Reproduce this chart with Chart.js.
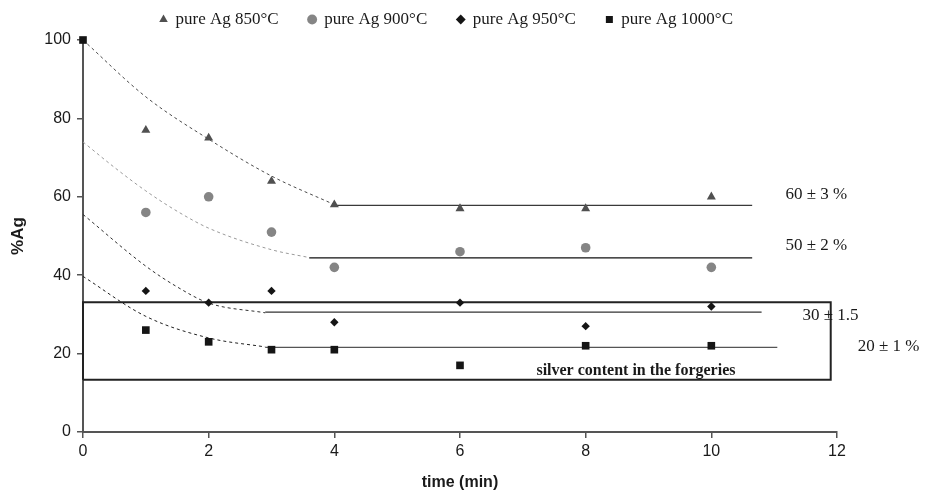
<!DOCTYPE html>
<html>
<head>
<meta charset="utf-8">
<script src="https://cdn.jsdelivr.net/npm/chart.js@4.4.1/dist/chart.umd.min.js"></script>
<style>
  html, body { margin: 0; padding: 0; background: #fff; }
  #wrap { width: 927px; height: 493px; }
</style>
</head>
<body>
<div id="wrap"><canvas id="grafica"></canvas></div>
<script>
/* ===============================
   DATOS
================================= */
const tiempos = [1, 2, 3, 4, 6, 8, 10];
const ag850 = [77, 75, 64, 58, 57, 57, 60];
const ag900 = [56, 60, 51, 42, 46, 47, 42];
const ag950 = [36, 33, 36, 28, 33, 27, 32];
const tiempos1000 = [0, 1, 2, 3, 4, 6, 8, 10];
const ag1000 = [100, 26, 23, 21, 21, 17, 22, 22];

// curvas de ajuste (punteadas)
const curvaX850 = [0, 1, 2, 3, 4];
const curvaY850 = [100, 85.5, 74.7, 65.3, 58];
const curvaX900 = [0, 0.5, 1, 1.5, 2, 3, 3.6];
const curvaY900 = [74, 67.5, 61.5, 56.3, 52, 46.5, 44.5];
const curvaX950 = [0, 1, 1.5, 2, 2.9];
const curvaY950 = [55.5, 42.3, 37, 32.9, 30.4];
const curvaX1000 = [0, 1, 2, 2.9];
const curvaY1000 = [39.7, 29.5, 24, 21.7];

// mesetas (lineas continuas): [x inicio, x fin, y]
const meseta850 = [4, 10.65, 57.8];
const meseta900 = [3.6, 10.65, 44.4];
const meseta950 = [2.9, 10.8, 30.6];
const meseta1000 = [2.9, 11.05, 21.6];

// recuadro "silver content in the forgeries": [x0, x1, y0, y1]
const recuadro = [0, 11.9, 13.3, 33.1];

// textos en coordenadas de datos
const etiquetas = ["60 ± 3 %", "50 ± 2 %", "30 ± 1.5", "20 ± 1 %"];
const etiquetasX = [11.18, 11.18, 11.45, 12.33];
const etiquetasY = [60.6, 47.6, 29.7, 21.7];
const textoCaja = "silver content in the forgeries";
const textoCajaX = 8.8;
const textoCajaY = 15.7;

const nombres = ["pure Ag 850°C", "pure Ag 900°C", "pure Ag 950°C", "pure Ag 1000°C"];
const ticksX = [0, 2, 4, 6, 8, 10, 12];
const ticksY = [0, 20, 40, 60, 80, 100];

/* ===============================
   ARMAR DATASETS
================================= */
function puntos(xs, ys) {
    return xs.map((x, i) => ({ x: x, y: ys[i] }));
}

function curva(xs, ys, color) {
    return {
        data: puntos(xs, ys),
        showLine: true,
        borderColor: color,
        borderWidth: 1,
        borderDash: [3, 3],
        pointRadius: 0,
        cubicInterpolationMode: "monotone",
        fill: false
    };
}

function meseta(m, color) {
    return {
        data: [{ x: m[0], y: m[2] }, { x: m[1], y: m[2] }],
        showLine: true,
        borderColor: color,
        borderWidth: 1.3,
        pointRadius: 0,
        fill: false
    };
}

function serie(nombre, xs, ys, color, estilo, radio) {
    return {
        label: nombre,
        data: puntos(xs, ys),
        backgroundColor: color,
        borderColor: color,
        pointStyle: estilo,
        pointRadius: radio,
        pointBorderWidth: 0,
        showLine: false,
        clip: 10
    };
}

const datasets = [
    serie(nombres[0], tiempos, ag850, "#505050", "triangle", 5.2),
    serie(nombres[1], tiempos, ag900, "#858585", "circle", 4.8),
    serie(nombres[2], tiempos, ag950, "#151515", "rectRot", 4.2),
    serie(nombres[3], tiempos1000, ag1000, "#151515", "rect", 5.4),
    curva(curvaX850, curvaY850, "#4a4a4a"),
    curva(curvaX900, curvaY900, "#9a9a9a"),
    curva(curvaX950, curvaY950, "#303030"),
    curva(curvaX1000, curvaY1000, "#202020"),
    meseta(meseta850, "#3a3a3a"),
    meseta(meseta900, "#111111"),
    meseta(meseta950, "#333333"),
    meseta(meseta1000, "#555555"),
    {
        data: [
            { x: recuadro[0], y: recuadro[2] },
            { x: recuadro[1], y: recuadro[2] },
            { x: recuadro[1], y: recuadro[3] },
            { x: recuadro[0], y: recuadro[3] },
            { x: recuadro[0], y: recuadro[2] }
        ],
        showLine: true,
        borderColor: "#222222",
        borderWidth: 2,
        pointRadius: 0,
        fill: false,
        clip: 4
    }
];

/* ===============================
   TEXTOS SOBRE LA GRAFICA
================================= */
const textosPlugin = {
    id: "textos",
    afterLayout(chart) {
        // mover la leyenda como en la figura original
        const ley = chart.legend;
        ley.left += 28;
        ley.right += 28;
        ley.top -= 2;
        ley.bottom -= 2;
    },
    afterDatasetsDraw(chart) {
        const ctx = chart.ctx;
        const sx = chart.scales.x;
        const sy = chart.scales.y;
        ctx.save();
        ctx.fillStyle = "#1a1a1a";
        ctx.textBaseline = "middle";
        ctx.textAlign = "left";
        ctx.font = "17px 'Liberation Serif'";
        etiquetas.forEach((t, i) => {
            ctx.fillText(t, sx.getPixelForValue(etiquetasX[i]), sy.getPixelForValue(etiquetasY[i]));
        });
        ctx.font = "bold 16px 'Liberation Serif'";
        ctx.textAlign = "center";
        ctx.fillText(textoCaja, sx.getPixelForValue(textoCajaX), sy.getPixelForValue(textoCajaY));
        ctx.restore();
    }
};

/* ===============================
   GRAFICA
================================= */
const ctx = document.getElementById("grafica").getContext("2d");

const grafica = new Chart(ctx, {
    type: "scatter",
    data: { datasets: datasets },
    plugins: [textosPlugin],
    options: {
        responsive: true,
        maintainAspectRatio: false,
        animation: false,
        layout: { padding: { top: -17, right: 90, bottom: 0, left: 0 } },
        plugins: {
            tooltip: { enabled: false },
            legend: {
                position: "top",
                labels: {
                    filter: (item) => item.datasetIndex < 4,
                    usePointStyle: true,
                    boxWidth: 7,
                    boxHeight: 7,
                    padding: 30,
                    color: "#1a1a1a",
                    font: { family: "'Liberation Serif'", size: 17 }
                }
            }
        },
        scales: {
            x: {
                type: "linear",
                min: 0,
                max: 12,
                afterFit: (s) => { s.height = 61; },
                afterBuildTicks: (s) => { s.ticks = ticksX.map(v => ({ value: v })); },
                grid: { drawOnChartArea: false, drawTicks: true, tickLength: 6, color: "#555", lineWidth: 1.5 },
                border: { color: "#555", width: 2 },
                ticks: {
                    color: "#1a1a1a",
                    padding: 4,
                    font: { family: "'Liberation Sans'", size: 16 }
                },
                title: {
                    display: true,
                    text: "time (min)",
                    color: "#1a1a1a",
                    padding: { top: 0, bottom: 1 },
                    font: { family: "'Liberation Sans'", size: 16, weight: "bold" }
                }
            },
            y: {
                type: "linear",
                min: 0,
                max: 100,
                afterFit: (s) => { s.width = 83; },
                afterBuildTicks: (s) => { s.ticks = ticksY.map(v => ({ value: v })); },
                grid: { drawOnChartArea: false, drawTicks: true, tickLength: 6, color: "#555", lineWidth: 1.5 },
                border: { color: "#555", width: 2 },
                ticks: {
                    color: "#1a1a1a",
                    padding: 6,
                    font: { family: "'Liberation Sans'", size: 16 }
                },
                title: {
                    display: true,
                    text: "%Ag",
                    color: "#1a1a1a",
                    padding: { top: 8, bottom: 0 },
                    font: { family: "'Liberation Sans'", size: 17, weight: "bold" }
                }
            }
        }
    }
});
</script>
</body>
</html>
